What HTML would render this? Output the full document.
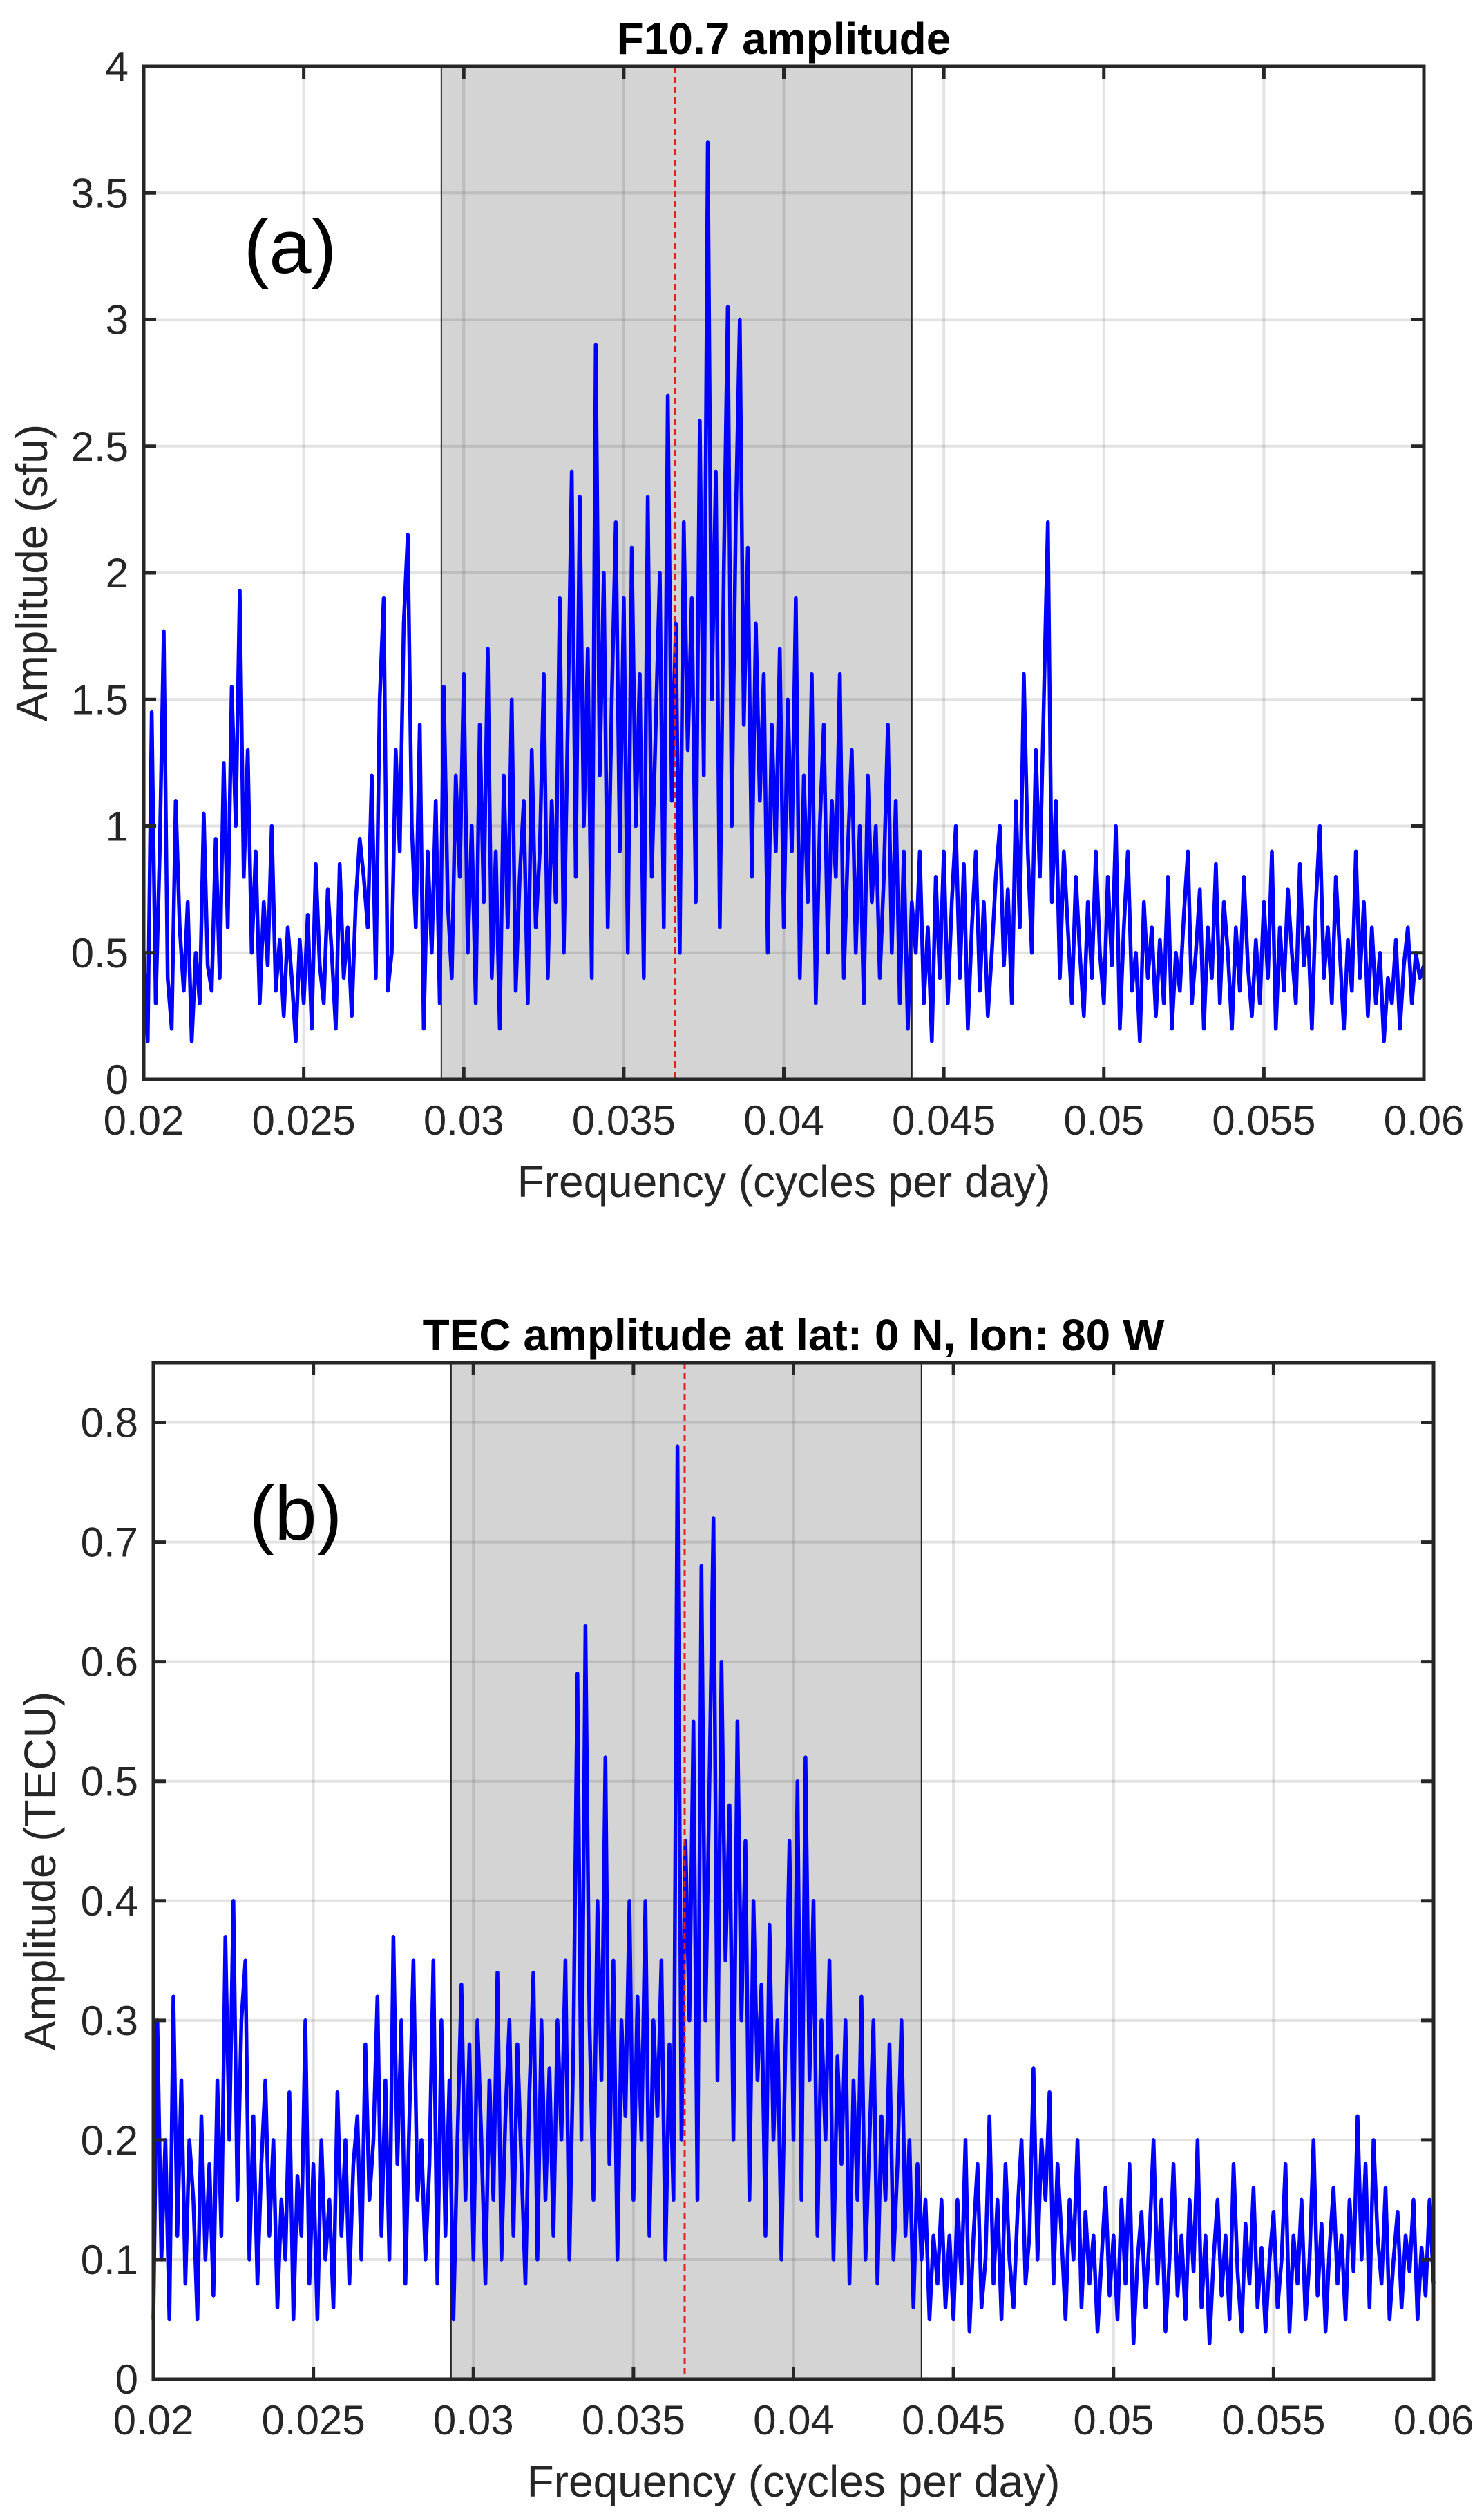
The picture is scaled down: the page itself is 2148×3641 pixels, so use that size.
<!DOCTYPE html>
<html><head><meta charset="utf-8"><style>
html,body{margin:0;padding:0;background:#fff;}
svg{display:block;font-family:"Liberation Sans",sans-serif;}
</style></head><body>
<svg id="fig" width="2148" height="3641" viewBox="0 0 2148 3641" xmlns="http://www.w3.org/2000/svg"></svg>
<script>
const xTicks=[0.02,0.025,0.03,0.035,0.04,0.045,0.05,0.055,0.06];
const xTickLabels=["0.02","0.025","0.03","0.035","0.04","0.045","0.05","0.055","0.06"];
const freqStart=0.02, freqStep=0.000125;
const bandLo=0.0293, bandHi=0.044, peakFreq=0.0366;
const yTicksA=[0,0.5,1,1.5,2,2.5,3,3.5,4];
const yTickLabelsA=["0","0.5","1","1.5","2","2.5","3","3.5","4"];
const yTicksB=[0,0.1,0.2,0.3,0.4,0.5,0.6,0.7,0.8];
const yTickLabelsB=["0","0.1","0.2","0.3","0.4","0.5","0.6","0.7","0.8"];
const ampA=[0.5,0.15,1.45,0.3,0.9,1.77,0.4,0.2,1.1,0.6,0.35,0.7,0.15,0.5,0.3,1.05,0.45,0.35,0.95,0.4,1.25,0.6,1.55,1.0,1.93,0.8,1.3,0.5,0.9,0.3,0.7,0.45,1.0,0.35,0.55,0.25,0.6,0.4,0.15,0.55,
0.3,0.65,0.2,0.85,0.45,0.3,0.75,0.5,0.2,0.85,0.4,0.6,0.25,0.7,0.95,0.8,0.6,1.2,0.4,1.5,1.9,0.35,0.5,1.3,0.9,1.8,2.15,1.0,0.6,1.4,0.2,0.9,0.5,1.1,0.3,1.55,0.7,0.4,1.2,0.8,
1.6,0.5,1.0,0.3,1.4,0.7,1.7,0.4,0.9,0.2,1.2,0.6,1.5,0.35,0.8,1.1,0.3,1.3,0.6,0.9,1.6,0.4,1.1,0.7,1.9,0.5,1.4,2.4,0.8,2.3,1.0,1.7,0.4,2.9,1.2,2.0,0.6,1.5,2.2,0.9,
1.9,0.5,2.1,1.0,1.6,0.4,2.3,0.8,1.4,2.0,0.6,2.7,1.1,1.8,0.5,2.2,1.3,1.9,0.7,2.6,1.2,3.7,1.5,2.4,0.6,2.0,3.05,1.0,2.2,3.0,1.4,2.1,0.8,1.8,1.1,1.6,0.5,1.4,0.9,1.7,
0.6,1.5,0.9,1.9,0.4,1.2,0.7,1.6,0.3,1.0,1.4,0.5,1.1,0.8,1.6,0.4,0.9,1.3,0.5,1.0,0.3,1.2,0.7,1.0,0.4,0.8,1.4,0.5,1.1,0.3,0.9,0.2,0.7,0.5,0.9,0.3,0.6,0.15,0.8,0.4,
0.9,0.3,0.7,1.0,0.4,0.85,0.2,0.6,0.9,0.35,0.7,0.25,0.5,0.8,1.0,0.45,0.75,0.3,1.1,0.6,1.6,0.9,0.5,1.3,0.8,1.5,2.2,0.7,1.1,0.4,0.9,0.6,0.3,0.8,0.5,0.25,0.7,0.4,0.9,0.5,
0.3,0.8,0.45,1.0,0.2,0.6,0.9,0.35,0.5,0.15,0.7,0.4,0.6,0.25,0.55,0.3,0.8,0.2,0.5,0.35,0.65,0.9,0.3,0.5,0.75,0.2,0.6,0.4,0.85,0.3,0.7,0.5,0.2,0.6,0.35,0.8,0.45,0.25,0.55,0.3,
0.7,0.4,0.9,0.2,0.6,0.35,0.75,0.5,0.3,0.85,0.45,0.6,0.2,0.7,1.0,0.4,0.6,0.3,0.8,0.5,0.2,0.55,0.35,0.9,0.4,0.7,0.25,0.6,0.3,0.5,0.15,0.4,0.3,0.55,0.2,0.45,0.6,0.3,0.5,0.4,0.45];
const ampB=[0.05,0.3,0.1,0.2,0.05,0.32,0.12,0.25,0.08,0.2,0.15,0.05,0.22,0.1,0.18,0.07,0.25,0.12,0.37,0.2,0.4,0.15,0.3,0.35,0.1,0.22,0.08,0.18,0.25,0.12,0.2,0.06,0.15,0.1,0.24,0.05,0.17,0.12,0.3,0.08,
0.18,0.05,0.2,0.1,0.15,0.06,0.24,0.12,0.2,0.08,0.18,0.22,0.1,0.28,0.15,0.2,0.32,0.12,0.25,0.1,0.37,0.18,0.3,0.08,0.22,0.35,0.15,0.2,0.1,0.18,0.35,0.08,0.3,0.12,0.25,0.05,0.2,0.33,0.15,0.28,
0.1,0.3,0.2,0.08,0.25,0.15,0.34,0.1,0.22,0.3,0.12,0.28,0.18,0.08,0.24,0.34,0.1,0.3,0.15,0.26,0.12,0.3,0.2,0.35,0.1,0.28,0.59,0.2,0.63,0.3,0.15,0.4,0.25,0.52,0.18,0.35,0.1,0.3,0.22,0.4,
0.15,0.32,0.2,0.4,0.12,0.3,0.22,0.35,0.1,0.28,0.15,0.78,0.2,0.45,0.3,0.55,0.15,0.68,0.3,0.5,0.72,0.25,0.6,0.35,0.48,0.2,0.55,0.3,0.45,0.15,0.4,0.25,0.33,0.12,0.38,0.2,0.3,0.1,0.28,0.45,
0.2,0.5,0.15,0.52,0.25,0.4,0.12,0.3,0.2,0.35,0.1,0.27,0.18,0.3,0.08,0.25,0.15,0.32,0.1,0.2,0.3,0.08,0.22,0.15,0.28,0.1,0.18,0.3,0.12,0.2,0.06,0.18,0.1,0.15,0.05,0.12,0.08,0.15,0.06,0.12,
0.05,0.15,0.08,0.2,0.04,0.12,0.18,0.06,0.1,0.22,0.08,0.15,0.05,0.18,0.1,0.06,0.14,0.2,0.08,0.12,0.26,0.1,0.2,0.15,0.24,0.08,0.18,0.12,0.05,0.15,0.1,0.2,0.06,0.14,0.08,0.12,0.04,0.1,0.16,0.07,
0.12,0.05,0.15,0.08,0.18,0.03,0.1,0.14,0.06,0.12,0.2,0.08,0.15,0.04,0.1,0.18,0.07,0.12,0.05,0.15,0.09,0.2,0.06,0.12,0.03,0.1,0.15,0.07,0.12,0.05,0.18,0.09,0.04,0.13,0.08,0.16,0.06,0.11,0.04,0.1,
0.14,0.06,0.1,0.18,0.04,0.12,0.08,0.15,0.05,0.1,0.2,0.07,0.13,0.04,0.11,0.16,0.08,0.12,0.05,0.15,0.09,0.22,0.1,0.18,0.06,0.2,0.12,0.08,0.16,0.05,0.1,0.14,0.06,0.12,0.09,0.15,0.05,0.11,0.07,0.15,0.08];

const NS="http://www.w3.org/2000/svg";
const svg=document.getElementById('fig');
function mk(tag,attrs,parent,text){const e=document.createElementNS(NS,tag);for(const k in attrs)e.setAttribute(k,attrs[k]);if(text!==undefined)e.textContent=text;(parent||svg).appendChild(e);return e;}

function panel(cfg){
  const g=mk('g',{});
  
  
  const L=cfg.L,R=cfg.R,T=cfg.T,B=cfg.B;
  const xs=f=>L+(f-0.02)/(0.06-0.02)*(R-L);
  const ys=v=>B-(v-0)/(cfg.ymax)*(B-T);
  const band=mk('rect',{x:xs(bandLo),y:T,width:xs(bandHi)-xs(bandLo),height:B-T,fill:'#d4d4d4',stroke:'#222','stroke-width':2},g);
  
  
  xTicks.forEach(t=>{const l=mk('line',{x1:xs(t),x2:xs(t),y1:T,y2:B,stroke:'#262626','stroke-opacity':0.13,'stroke-width':4},g);
    });
  cfg.yTicks.forEach(t=>{const l=mk('line',{x1:L,x2:R,y1:ys(t),y2:ys(t),stroke:'#262626','stroke-opacity':0.13,'stroke-width':4},g);
    });
  let d='';
  cfg.data.forEach((v,i)=>{const f=freqStart+i*freqStep;d+=(i?'L':'M')+xs(f).toFixed(1)+','+ys(v).toFixed(1);});
  const p=mk('path',{d:d,fill:'none',stroke:'#0000ff','stroke-width':5.5,'stroke-linejoin':'round'},g);
  
  
  const rl=mk('line',{x1:xs(peakFreq),x2:xs(peakFreq),y1:T,y2:B,stroke:'#e02020','stroke-width':3,'stroke-dasharray':'9,6'},g);
  
  
  const box=mk('rect',{x:L,y:T,width:R-L,height:B-T,fill:'none',stroke:'#262626','stroke-width':5},g);
  
  
  xTicks.forEach((t,i)=>{
    mk('line',{x1:xs(t),x2:xs(t),y1:B,y2:B-18,stroke:'#262626','stroke-width':5},g);
    mk('line',{x1:xs(t),x2:xs(t),y1:T,y2:T+18,stroke:'#262626','stroke-width':5},g);
    const tx=mk('text',{x:xs(t),y:B+80,'text-anchor':'middle','font-size':60,fill:'#262626'},g,xTickLabels[i]);
    
  });
  cfg.yTicks.forEach((t,i)=>{
    mk('line',{x1:L,x2:L+18,y1:ys(t),y2:ys(t),stroke:'#262626','stroke-width':5},g);
    mk('line',{x1:R,x2:R-18,y1:ys(t),y2:ys(t),stroke:'#262626','stroke-width':5},g);
    const ty=mk('text',{x:L-22,y:ys(t)+21,'text-anchor':'end','font-size':60,fill:'#262626'},g,cfg.yTickLabels[i]);
    
  });
  const title=mk('text',{x:(L+R)/2,y:T-18,'text-anchor':'middle','font-size':64,'font-weight':'bold',fill:'#000'},g,cfg.title);
  
  const xl=mk('text',{x:(L+R)/2,y:B+170,'text-anchor':'middle','font-size':64,fill:'#262626'},g,'Frequency (cycles per day)');
  
  const yl=mk('text',{x:0,y:0,'text-anchor':'middle','font-size':64,fill:'#262626',transform:'translate('+cfg.ylx+','+((T+B)/2)+') rotate(-90)'},g,cfg.ylabel);
  
  const pl=mk('text',{x:cfg.plx,y:cfg.ply,'text-anchor':'middle','font-size':110,fill:'#000'},g,cfg.plabel);
  
}
panel({name:'panel-a',L:208,R:2061,T:96,B:1562,ymax:4,yTicks:yTicksA,yTickLabels:yTickLabelsA,data:ampA,title:'F10.7 amplitude',ylabel:'Amplitude (sfu)',ylx:68,plabel:'(a)',plx:420,ply:395});
panel({name:'panel-b',L:222,R:2075,T:1972,B:3443,ymax:0.85,yTicks:yTicksB,yTickLabels:yTickLabelsB,data:ampB,title:'TEC amplitude at lat: 0 N, lon: 80 W',ylabel:'Amplitude (TECU)',ylx:80,plabel:'(b)',plx:428,ply:2228});
</script>
</body></html>
